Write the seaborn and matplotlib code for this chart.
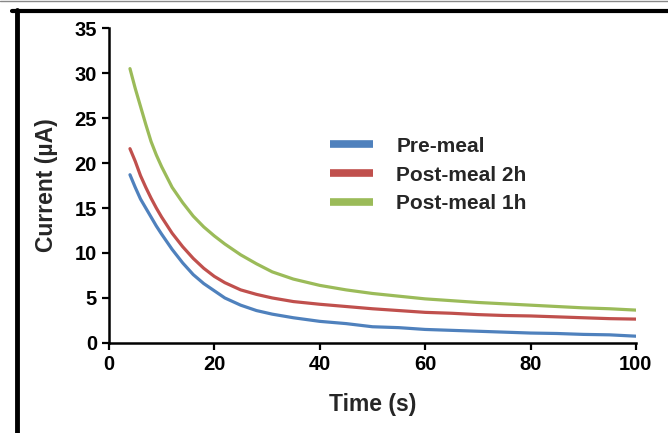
import pandas as pd
import matplotlib.pyplot as plt
import seaborn as sns
from matplotlib.lines import Line2D

# values
time_s = [4, 5, 6, 7, 8, 9, 10, 12, 14, 16, 18, 20, 22, 25, 28, 31, 35, 40,
          45, 50, 55, 60, 65, 70, 75, 80, 85, 90, 95, 100]
pre_meal = [18.7, 17.3, 16.0, 15.0, 14.0, 13.0, 12.1, 10.4, 8.9, 7.6, 6.6, 5.8,
            5.0, 4.2, 3.6, 3.2, 2.8, 2.4, 2.15, 1.8, 1.7, 1.5, 1.4, 1.3, 1.2,
            1.1, 1.05, 0.95, 0.9, 0.75]
post_2h = [21.6, 20.2, 18.6, 17.3, 16.1, 15.0, 14.0, 12.2, 10.7, 9.4, 8.3, 7.4,
           6.7, 5.9, 5.4, 5.0, 4.6, 4.3, 4.05, 3.8, 3.6, 3.4, 3.3, 3.15, 3.05,
           3.0, 2.9, 2.8, 2.7, 2.65]
post_1h = [30.5, 28.3, 26.3, 24.3, 22.4, 20.9, 19.6, 17.3, 15.6, 14.1, 12.9, 11.9,
           11.0, 9.8, 8.8, 7.9, 7.1, 6.4, 5.9, 5.5, 5.2, 4.9, 4.7, 4.5, 4.35,
           4.2, 4.05, 3.9, 3.8, 3.65]
series_names = ['Pre-meal', 'Post-meal 2h', 'Post-meal 1h']
colors = ['#4f81bd', '#c0504d', '#9bbb59']

df = pd.concat([
    pd.DataFrame({'Time': time_s, 'Current': vals, 'Sample': name})
    for name, vals in zip(series_names, [pre_meal, post_2h, post_1h])
])

sns.set_style('ticks')
plt.rcParams['font.family'] = ['Liberation Sans', 'DejaVu Sans']
plt.rcParams['font.weight'] = 'bold'

fig = plt.figure(figsize=(6.68, 4.33), dpi=100)
ax = fig.add_axes([0.163, 0.208, 0.789, 0.727])
sns.lineplot(data=df, x='Time', y='Current', hue='Sample', hue_order=series_names,
             palette=colors, linewidth=2.3, ax=ax)

ax.set_xlim(0, 100)
ax.set_ylim(0, 35)
ax.set_xticks(range(0, 101, 20))
ax.set_yticks(range(0, 36, 5))
ax.set_xlabel('Time (s)', fontsize=16.5, fontweight='bold', labelpad=14)
ax.set_ylabel('Current (\u00b5A)', fontsize=16.5, fontweight='bold', labelpad=12)
ax.tick_params(labelsize=14.5, width=1.6, length=5, colors='black')
for lbl in ax.get_xticklabels() + ax.get_yticklabels():
    lbl.set_fontweight('bold')
sns.despine(ax=ax)
for sp in ['left', 'bottom']:
    ax.spines[sp].set_linewidth(1.8)
    ax.spines[sp].set_color('black')

leg = ax.legend(loc='upper left', bbox_to_anchor=(0.419, 0.655), frameon=False,
                borderpad=0, borderaxespad=0, handlelength=2.1,
                labelspacing=0.47, handletextpad=1.1,
                prop={'weight': 'bold', 'size': 15})
for ln in leg.get_lines():
    ln.set_linewidth(5.5)
    ln.set_solid_capstyle('butt')

# picture frame
fig.add_artist(Line2D([0, 1], [0.998, 0.998], color='#888888', lw=1))
fig.add_artist(Line2D([0.018, 1], [0.974, 0.974], color='black', lw=3))
fig.add_artist(Line2D([0.026, 0.026], [0, 0.977], color='black', lw=3.5))

fig.savefig('out.png', dpi=100)
